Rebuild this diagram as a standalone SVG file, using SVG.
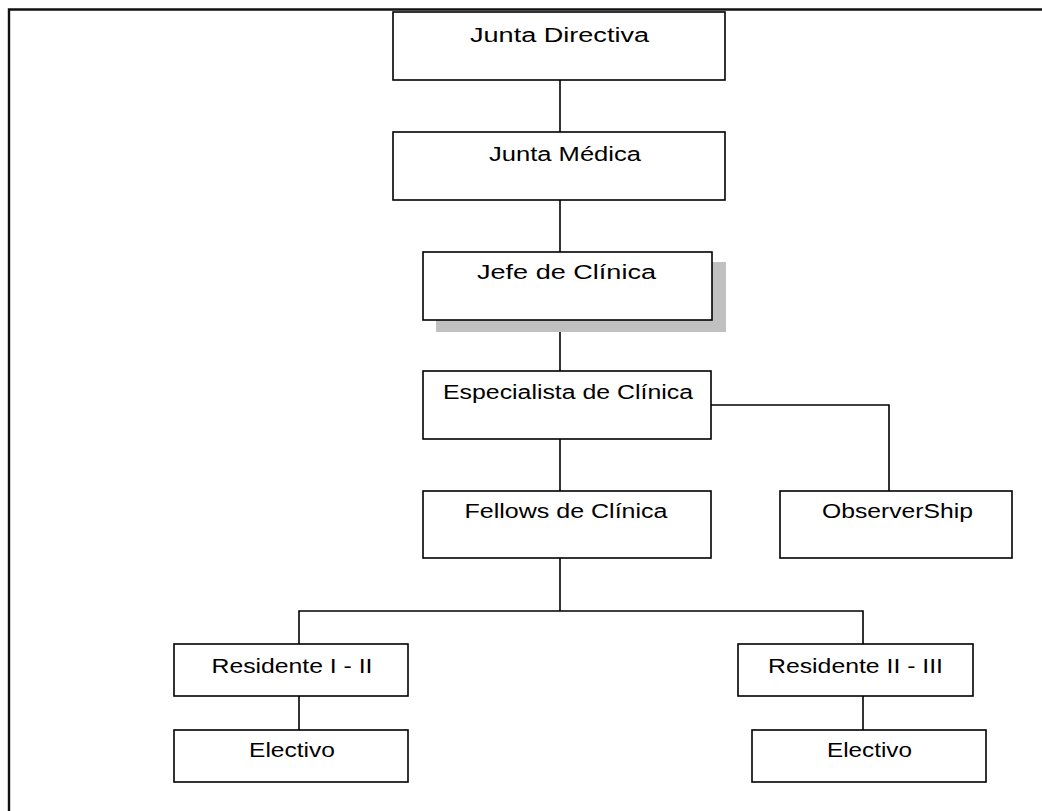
<svg xmlns="http://www.w3.org/2000/svg" width="1042" height="811" viewBox="0 0 1042 811">
  <style>
    .box { fill: #ffffff; stroke: #000000; stroke-width: 1.6; }
    .shadow { fill: #c0c0c0; stroke: none; }
    .link { fill: none; stroke: #000000; stroke-width: 1.6; }
    .frame { fill: none; stroke: #111111; stroke-width: 2.4; }
    .label { font-family: "Liberation Sans", Arial, sans-serif; font-size: 20px; fill: #000000; text-anchor: middle; }
  </style>
  <rect width="1042" height="811" fill="#ffffff"/>

  <!-- page frame (top and left rules) -->
  <path class="frame" d="M9,811 V9.5 H1042"/>

  <!-- connectors -->
  <g id="connectors">
    <path class="link" d="M560,80 V132"/>
    <path class="link" d="M560,200 V252"/>
    <path class="link" d="M560,320 V371"/>
    <path class="link" d="M560,439 V491"/>
    <path class="link" d="M711,405 H889 V491"/>
    <path class="link" d="M560,558 V611"/>
    <path class="link" d="M299,644 V611 H863 V644"/>
    <path class="link" d="M299,696 V730"/>
    <path class="link" d="M863,696 V730"/>
  </g>

  <g id="junta-directiva">
    <rect class="box" x="393" y="12" width="332" height="68"/>
    <text class="label" x="559.5" y="42" textLength="179" lengthAdjust="spacingAndGlyphs">Junta Directiva</text>
  </g>

  <g id="junta-medica">
    <rect class="box" x="393" y="132" width="332" height="68"/>
    <text class="label" x="565" y="161" textLength="152" lengthAdjust="spacingAndGlyphs">Junta Médica</text>
  </g>

  <g id="jefe-clinica">
    <rect class="shadow" x="436" y="262" width="290" height="70"/>
    <rect class="box" x="423" y="252" width="289" height="68"/>
    <text class="label" x="566.5" y="279" textLength="179" lengthAdjust="spacingAndGlyphs">Jefe de Clínica</text>
  </g>

  <g id="especialista-clinica">
    <rect class="box" x="423" y="371" width="288" height="68"/>
    <text class="label" x="568" y="399" textLength="250" lengthAdjust="spacingAndGlyphs">Especialista de Clínica</text>
  </g>

  <g id="fellows-clinica">
    <rect class="box" x="423" y="491" width="288" height="67"/>
    <text class="label" x="566" y="518" textLength="203" lengthAdjust="spacingAndGlyphs">Fellows de Clínica</text>
  </g>

  <g id="observership">
    <rect class="box" x="780" y="491" width="232" height="67"/>
    <text class="label" x="897.5" y="518" textLength="151" lengthAdjust="spacingAndGlyphs">ObserverShip</text>
  </g>

  <g id="residente-1-2">
    <rect class="box" x="174" y="644" width="234" height="52"/>
    <text class="label" x="292" y="673" textLength="161" lengthAdjust="spacingAndGlyphs">Residente I - II</text>
  </g>

  <g id="electivo-1">
    <rect class="box" x="174" y="730" width="234" height="52"/>
    <text class="label" x="292" y="757" textLength="86" lengthAdjust="spacingAndGlyphs">Electivo</text>
  </g>

  <g id="residente-2-3">
    <rect class="box" x="738" y="644" width="235" height="52"/>
    <text class="label" x="855.5" y="673" textLength="175" lengthAdjust="spacingAndGlyphs">Residente II - III</text>
  </g>

  <g id="electivo-2">
    <rect class="box" x="752" y="730" width="234" height="52"/>
    <text class="label" x="869.5" y="757" textLength="85" lengthAdjust="spacingAndGlyphs">Electivo</text>
  </g>
</svg>
